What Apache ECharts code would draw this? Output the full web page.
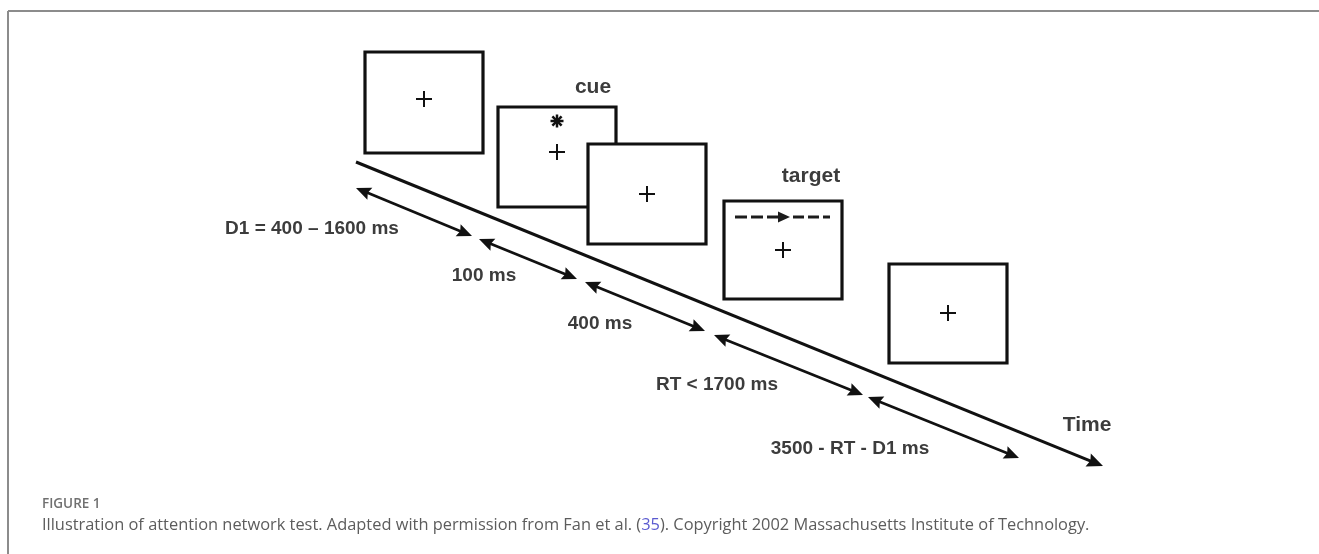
<!DOCTYPE html>
<html>
<head>
<meta charset="utf-8">
<title>Attention network test</title>
<script src="https://cdn.jsdelivr.net/npm/echarts@6/dist/echarts.min.js"></script>
<style>
  html, body { margin: 0; padding: 0; background: #fff; }
  #chart { width: 1319px; height: 554px; }
</style>
</head>
<body>
<div id="chart"></div>
<script>
// diagram space = page pixels (y grows downward)
const screens = [
  [365, 52, 483, 153],
  [498, 107, 616, 207],
  [588, 144, 706, 244],
  [724, 201, 842, 299],
  [889, 264, 1007, 363]
];
const fixations = [[424, 99], [557, 152], [647, 194], [783, 250], [948, 313]];
const cuePos = [[557, 121]];
const targetPos = [[783, 217]];

const timeAxis = [[356, 162], [1103, 466]];
const intervals = [
  [[356, 188], [472, 236]],
  [[479, 239], [577, 279]],
  [[585, 282], [705, 331]],
  [[714, 335], [863, 395]],
  [[868, 397], [1019, 458]]
];
const intervalLabels = ['D1 = 400 – 1600 ms', '100 ms', '400 ms', 'RT < 1700 ms', '3500 - RT - D1 ms'];
const intervalLabelPos = [[312, 229], [484, 276], [600, 324], [717, 385], [850, 449]];
const eventLabels = ['cue', 'target', 'Time'];
const eventLabelPos = [[593, 87], [811, 176], [1087, 425]];

const INK = '#111';
const TEXT = '#3c3c3c';

function arrowShape(p0, p1, both, head, half, width) {
  const dx = p1[0] - p0[0], dy = p1[1] - p0[1];
  const len = Math.hypot(dx, dy);
  const ux = dx / len, uy = dy / len;
  const nx = -uy, ny = ux;
  const cut = head * 0.7;
  const s0 = both ? [p0[0] + ux * cut, p0[1] + uy * cut] : p0;
  const s1 = [p1[0] - ux * cut, p1[1] - uy * cut];
  const headAt = (tip, dx, dy) => {
    const bx = tip[0] - dx * head, by = tip[1] - dy * head;
    const nb = [tip[0] - dx * head * 0.85, tip[1] - dy * head * 0.85];
    return {
      type: 'polygon',
      shape: { points: [tip, [bx + nx * half, by + ny * half], nb, [bx - nx * half, by - ny * half]] },
      style: { fill: INK }
    };
  };
  const children = [{
    type: 'line',
    shape: { x1: s0[0], y1: s0[1], x2: s1[0], y2: s1[1] },
    style: { stroke: INK, lineWidth: width }
  }, headAt(p1, ux, uy)];
  if (both) children.push(headAt(p0, -ux, -uy));
  return { type: 'group', children: children };
}

const chart = echarts.init(document.getElementById('chart'), null, { renderer: 'canvas' });

const option = {
  animation: false,
  backgroundColor: '#fff',
  grid: { left: 0, right: 0, top: 0, bottom: 0 },
  xAxis: { type: 'value', min: 0, max: 1319, show: false },
  yAxis: { type: 'value', min: 0, max: 554, inverse: true, show: false },
  graphic: [
    { type: 'line', shape: { x1: 8, y1: 11, x2: 1319, y2: 11 }, style: { stroke: '#8c8c8c', lineWidth: 2 } },
    { type: 'line', shape: { x1: 8, y1: 11, x2: 8, y2: 554 }, style: { stroke: '#8c8c8c', lineWidth: 2 } },
    {
      type: 'text', left: 42, top: 497,
      style: { text: 'FIGURE 1', font: '600 13.5px "Open Sans"', fill: '#707070' }
    },
    {
      type: 'text', left: 42, top: 517,
      style: {
        text: 'Illustration of attention network test. Adapted with permission from Fan et al. ({l|35}). Copyright 2002 Massachusetts Institute of Technology.',
        font: '16.4px "Open Sans"', fill: '#5c5c5c',
        rich: { l: { fill: '#5a5ad0', font: '16.4px "Open Sans"' } }
      }
    }
  ],
  series: [
    {
      type: 'custom', name: 'screens', silent: true,
      data: screens,
      renderItem: (params, api) => {
        const a = api.coord([api.value(0), api.value(1)]);
        const b = api.coord([api.value(2), api.value(3)]);
        return {
          type: 'rect',
          shape: { x: a[0], y: a[1], width: b[0] - a[0], height: b[1] - a[1] },
          style: { fill: '#fff', stroke: INK, lineWidth: 3.2 }
        };
      }
    },
    {
      type: 'custom', name: 'fixation', silent: true, z: 3,
      data: fixations,
      renderItem: (params, api) => {
        const c = api.coord([api.value(0), api.value(1)]);
        const r = 8;
        return {
          type: 'group', children: [
            { type: 'line', shape: { x1: c[0] - r, y1: c[1], x2: c[0] + r, y2: c[1] }, style: { stroke: INK, lineWidth: 2 } },
            { type: 'line', shape: { x1: c[0], y1: c[1] - r, x2: c[0], y2: c[1] + r }, style: { stroke: INK, lineWidth: 2 } }
          ]
        };
      }
    },
    {
      type: 'custom', name: 'cue', silent: true, z: 3,
      data: cuePos,
      renderItem: (params, api) => {
        const c = api.coord([api.value(0), api.value(1)]);
        const r = 6.5;
        const kids = [0, 45, 90, 135].map(deg => {
          const t = deg * Math.PI / 180;
          return {
            type: 'line',
            shape: { x1: c[0] - r * Math.cos(t), y1: c[1] - r * Math.sin(t), x2: c[0] + r * Math.cos(t), y2: c[1] + r * Math.sin(t) },
            style: { stroke: INK, lineWidth: 2.5 }
          };
        });
        return { type: 'group', children: kids };
      }
    },
    {
      type: 'custom', name: 'target', silent: true, z: 3,
      data: targetPos,
      renderItem: (params, api) => {
        const c = api.coord([api.value(0), api.value(1)]);
        const dashes = [[-48, -36], [-32, -20], [-16, -3], [10, 21], [25, 36], [40, 47]];
        const kids = dashes.map(d => ({
          type: 'line',
          shape: { x1: c[0] + d[0], y1: c[1], x2: c[0] + d[1], y2: c[1] },
          style: { stroke: '#1c1c1c', lineWidth: 3 }
        }));
        kids.push({
          type: 'polygon',
          shape: { points: [[c[0] - 5, c[1] - 5.5], [c[0] + 7, c[1]], [c[0] - 5, c[1] + 5.5]] },
          style: { fill: '#1c1c1c' }
        });
        return { type: 'group', children: kids };
      }
    },
    {
      type: 'custom', name: 'time', silent: true, z: 4,
      data: [timeAxis[0].concat(timeAxis[1])],
      renderItem: (params, api) => {
        const a = api.coord([api.value(0), api.value(1)]);
        const b = api.coord([api.value(2), api.value(3)]);
        return arrowShape(a, b, false, 16, 7, 3);
      }
    },
    {
      type: 'custom', name: 'intervals', silent: true, z: 4,
      data: intervals.map(s => s[0].concat(s[1])),
      renderItem: (params, api) => {
        const a = api.coord([api.value(0), api.value(1)]);
        const b = api.coord([api.value(2), api.value(3)]);
        return arrowShape(a, b, true, 15, 6.5, 2.7);
      }
    },
    {
      type: 'custom', name: 'interval labels', silent: true, z: 5,
      data: intervalLabelPos,
      renderItem: (params, api) => {
        const c = api.coord([api.value(0), api.value(1)]);
        return {
          type: 'text', x: c[0], y: c[1],
          style: {
            text: intervalLabels[params.dataIndex], fill: TEXT,
            font: 'bold 19px "Liberation Sans", Arial, sans-serif',
            align: 'center', verticalAlign: 'middle'
          }
        };
      }
    },
    {
      type: 'custom', name: 'event labels', silent: true, z: 5,
      data: eventLabelPos,
      renderItem: (params, api) => {
        const c = api.coord([api.value(0), api.value(1)]);
        return {
          type: 'text', x: c[0], y: c[1],
          style: {
            text: eventLabels[params.dataIndex], fill: TEXT,
            font: 'bold 21px "Liberation Sans", Arial, sans-serif',
            align: 'center', verticalAlign: 'middle'
          }
        };
      }
    }
  ]
};

chart.setOption(option);
</script>
</body>
</html>
